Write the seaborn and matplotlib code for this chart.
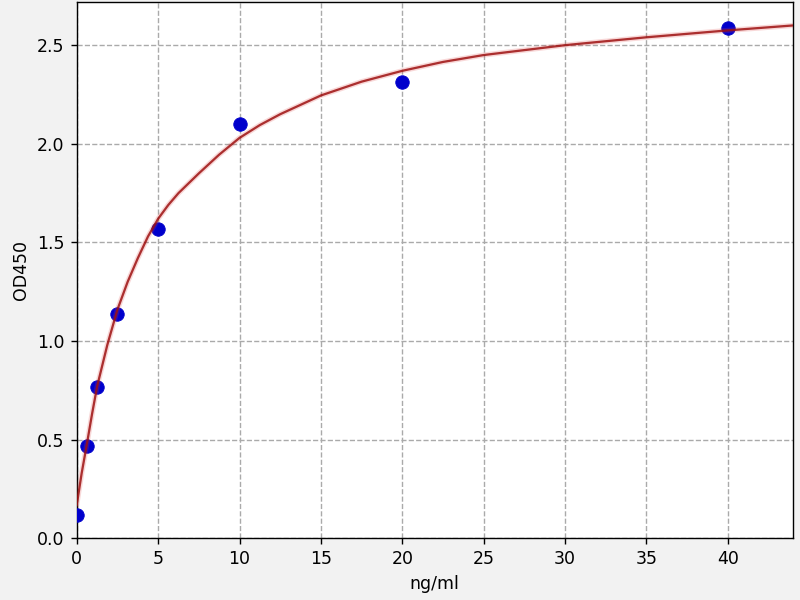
import seaborn as sns
import matplotlib.pyplot as plt
import pandas as pd

# standard points (ng/ml vs OD450)
conc = [0, 0.625, 1.25, 2.5, 5, 10, 20, 40]
od450 = [0.117, 0.47, 0.768, 1.138, 1.568, 2.098, 2.314, 2.585]

# fitted curve
curve_x = [0, 0.3, 0.625, 0.9375, 1.25, 1.875, 2.5, 3.125, 3.75, 4.375, 5, 5.625,
           6.25, 7.5, 8.75, 10, 11.25, 12.5, 15, 17.5, 20, 22.5, 25, 30, 35, 40, 44]
curve_y = [0.17, 0.33, 0.48, 0.63, 0.77, 0.98, 1.16, 1.30, 1.42, 1.53, 1.62, 1.69,
           1.75, 1.85, 1.945, 2.03, 2.095, 2.15, 2.245, 2.315, 2.37, 2.415, 2.45,
           2.50, 2.54, 2.575, 2.60]

xticks = [0, 5, 10, 15, 20, 25, 30, 35, 40]
yticks = [0.0, 0.5, 1.0, 1.5, 2.0, 2.5]

pts = pd.DataFrame({'conc': conc, 'od': od450})
fit = pd.DataFrame({'x': curve_x, 'y': curve_y})

fig, ax = plt.subplots(figsize=(6.4, 4.8), dpi=125)
fig.patch.set_facecolor('#f2f2f2')
ax.set_facecolor('white')

sns.scatterplot(data=pts, x='conc', y='od', ax=ax, s=60, color='#0000cc',
                edgecolor='#0000cc', linewidth=0.5, zorder=3)
# faint halo + the curve itself
sns.lineplot(data=fit, x='x', y='y', ax=ax, sort=False, estimator=None,
             color='#e04040', lw=3, alpha=0.2, zorder=4)
sns.lineplot(data=fit, x='x', y='y', ax=ax, sort=False, estimator=None,
             color='#9e1111', lw=1.3, alpha=0.85, zorder=5)

ax.set_xlim(0, 44)
ax.set_ylim(0, 2.72)
ax.set_xticks(xticks)
ax.set_yticks(yticks)
ax.set_xticklabels([str(t) for t in xticks])
ax.set_yticklabels(['%.1f' % t for t in yticks])
ax.grid(True, linestyle='--', color='#aaaaaa', lw=0.8)
ax.set_axisbelow(True)
ax.set_xlabel('ng/ml')
ax.set_ylabel('OD450')

plt.subplots_adjust(left=0.096, right=0.991, bottom=0.103, top=0.997)
plt.savefig('out.png', dpi=125, facecolor=fig.get_facecolor())
plt.close()
